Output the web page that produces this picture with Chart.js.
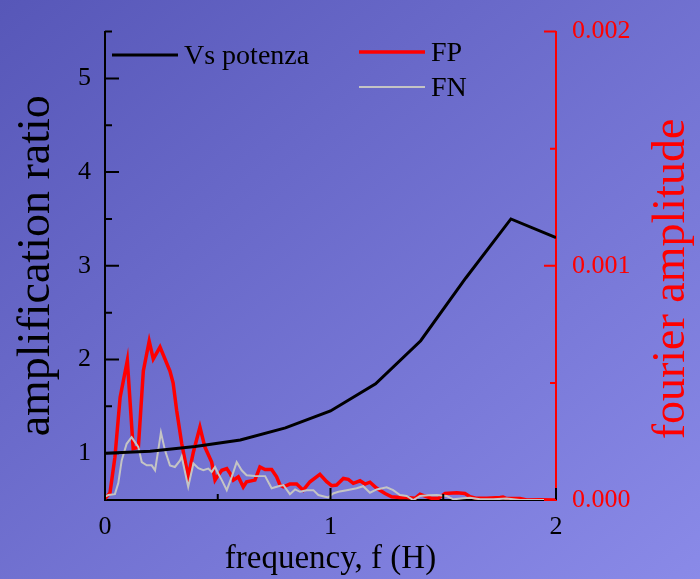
<!DOCTYPE html>
<html>
<head>
<meta charset="utf-8">
<script src="https://cdn.jsdelivr.net/npm/chart.js@4.4.0/dist/chart.umd.min.js"></script>
<style>
  html, body { margin: 0; padding: 0; }
  body { width: 700px; height: 579px; background: linear-gradient(to bottom right, #5757b8, #8a8ae8); }
  canvas { display: block; }
</style>
</head>
<body>
<canvas id="chart" width="700" height="579"></canvas>
<script>
const SERIF = '"Liberation Serif", "Times New Roman", serif';

// Vs potenza amplification curve
const vsFreq  = [0, 0.2, 0.4, 0.6, 0.8, 1.0, 1.2, 1.4, 1.6, 1.8, 2.0];
const vsRatio = [1.0, 1.02, 1.07, 1.14, 1.27, 1.45, 1.74, 2.2, 2.87, 3.5, 3.3];

// FP fourier spectrum
const fpFreq = [0, 0.022, 0.044, 0.067, 0.099, 0.125, 0.148, 0.170, 0.196, 0.214,
  0.244, 0.288, 0.302, 0.318, 0.340, 0.369, 0.392, 0.421, 0.443, 0.473,
  0.488, 0.502, 0.518, 0.540, 0.554, 0.569, 0.591, 0.613, 0.628, 0.665,
  0.687, 0.710, 0.739, 0.761, 0.776, 0.791, 0.820, 0.850, 0.879, 0.909,
  0.953, 0.983, 1.005, 1.027, 1.057, 1.079, 1.101, 1.131, 1.153, 1.175,
  1.205, 1.242, 1.271, 1.308, 1.338, 1.375, 1.397, 1.419, 1.449, 1.478,
  1.508, 1.560, 1.596, 1.619, 1.648, 1.693, 1.752, 1.765, 1.781, 1.840,
  1.870, 1.929, 2.0];
const fpAmp = [0.000006, 0.000030, 0.000183, 0.000438, 0.000596, 0.000219, 0.000226, 0.000551, 0.000678, 0.000602,
  0.000653, 0.000551, 0.000500, 0.000381, 0.000242, 0.000099, 0.000205, 0.000311, 0.000226, 0.000162,
  0.000085, 0.000106, 0.000127, 0.000134, 0.000114, 0.000085, 0.000099, 0.000056, 0.000078, 0.000085,
  0.000141, 0.000130, 0.000130, 0.000099, 0.000064, 0.000056, 0.000068, 0.000068, 0.000042, 0.000078,
  0.000110, 0.000078, 0.000061, 0.000064, 0.000092, 0.000088, 0.000071, 0.000082, 0.000068, 0.000076,
  0.000050, 0.000028, 0.000014, 0.000011, 0.000011, 0.000007, 0.000025, 0.000017, 0.000007, 0.000007,
  0.000028, 0.000031, 0.000028, 0.000014, 0.000007, 0.000007, 0.000011, 0.000013, 0.000006, 0.000006,
  0.000000, 0.000001, 0.000000];

// FN fourier spectrum
const fnFreq = [0, 0.015, 0.044, 0.059, 0.074, 0.096, 0.118, 0.133, 0.148, 0.163,
  0.185, 0.207, 0.222, 0.236, 0.248, 0.266, 0.288, 0.310, 0.333, 0.340,
  0.369, 0.392, 0.414, 0.436, 0.458, 0.473, 0.488, 0.502, 0.518, 0.540,
  0.562, 0.584, 0.606, 0.628, 0.665, 0.710, 0.739, 0.769, 0.791, 0.820,
  0.843, 0.865, 0.894, 0.924, 0.946, 0.976, 0.990, 1.012, 1.035, 1.072,
  1.116, 1.145, 1.175, 1.205, 1.249, 1.278, 1.308, 1.338, 1.367, 1.397,
  1.434, 1.471, 1.515, 1.545, 1.589, 1.619, 1.663, 1.722, 1.781, 1.840,
  1.929, 2.0];
const fnAmp = [0.000014, 0.000021, 0.000025, 0.000072, 0.000169, 0.000240, 0.000268, 0.000247, 0.000226, 0.000162,
  0.000148, 0.000148, 0.000127, 0.000212, 0.000289, 0.000212, 0.000148, 0.000141, 0.000169, 0.000186,
  0.000056, 0.000156, 0.000136, 0.000127, 0.000134, 0.000120, 0.000141, 0.000113, 0.000085, 0.000042,
  0.000099, 0.000162, 0.000127, 0.000106, 0.000103, 0.000102, 0.000050, 0.000059, 0.000064, 0.000025,
  0.000045, 0.000035, 0.000042, 0.000042, 0.000021, 0.000014, 0.000011, 0.000028, 0.000035, 0.000042,
  0.000050, 0.000059, 0.000031, 0.000045, 0.000054, 0.000042, 0.000021, 0.000017, 0.000000, 0.000017,
  0.000020, 0.000021, 0.000017, 0.000003, 0.000007, 0.000010, 0.000003, 0.000003, 0.000006, 0.000000,
  0.000000, 0.000000];

// axis ticks
const freqTicks  = [0, 1, 2];
const ratioTicks = [1, 2, 3, 4, 5];
const ampTicks   = [0, 0.001, 0.002];

const pts = (xs, ys) => xs.map((x, i) => ({ x: x, y: ys[i] }));
const setTicks = vals => scale => { scale.ticks = vals.map(v => ({ value: v })); };

// short tick marks pointing into the plot, majors and half-step minors
const inwardTicks = {
  id: 'inwardTicks',
  afterDatasetsDraw(chart) {
    const ctx = chart.ctx;
    const { x, y, y2 } = chart.scales;
    const minors = (vals) => vals.slice(0, -1).map((v, i) => (v + vals[i + 1]) / 2);
    ctx.save();
    ctx.lineWidth = 2;
    ctx.strokeStyle = '#000';
    ctx.beginPath();
    freqTicks.forEach(v => { const px = x.getPixelForValue(v); ctx.moveTo(px, x.top); ctx.lineTo(px, x.top - 12); });
    minors(freqTicks).forEach(v => { const px = x.getPixelForValue(v); ctx.moveTo(px, x.top); ctx.lineTo(px, x.top - 6); });
    ratioTicks.forEach(v => { const py = y.getPixelForValue(v); ctx.moveTo(y.right, py); ctx.lineTo(y.right + 14, py); });
    minors([...ratioTicks, 6]).forEach(v => { const py = y.getPixelForValue(v); ctx.moveTo(y.right, py); ctx.lineTo(y.right + 7, py); });
    ctx.stroke();
    ctx.strokeStyle = '#ff0000';
    ctx.beginPath();
    ampTicks.forEach(v => { const py = y2.getPixelForValue(v); ctx.moveTo(y2.left, py); ctx.lineTo(y2.left - 12, py); });
    minors(ampTicks).forEach(v => { const py = y2.getPixelForValue(v); ctx.moveTo(y2.left, py); ctx.lineTo(y2.left - 6, py); });
    ctx.stroke();
    ctx.restore();
  }
};

// legend entries placed inside the plot
const legendSpots = { 'Vs potenza': [112, 55], 'FP': [359, 52], 'FN': [359, 87] };
const inlineLegend = {
  id: 'inlineLegend',
  afterDraw(chart) {
    const ctx = chart.ctx;
    ctx.save();
    ctx.font = '28px ' + SERIF;
    ctx.textBaseline = 'middle';
    ctx.fillStyle = '#000';
    chart.data.datasets.forEach(ds => {
      const [lx, ly] = legendSpots[ds.label];
      ctx.strokeStyle = ds.borderColor;
      ctx.lineWidth = ds.borderWidth;
      ctx.beginPath();
      ctx.moveTo(lx, ly);
      ctx.lineTo(lx + 66, ly);
      ctx.stroke();
      ctx.fillText(ds.label, lx + 72, ly + 2);
    });
    ctx.restore();
  }
};

// right axis title reads bottom-to-top like the left one
const rightTitle = {
  id: 'rightTitle',
  afterDraw(chart) {
    const ctx = chart.ctx;
    ctx.save();
    ctx.translate(672, 279);
    ctx.rotate(-Math.PI / 2);
    ctx.font = '46px ' + SERIF;
    ctx.fillStyle = '#ff0000';
    ctx.textAlign = 'center';
    ctx.textBaseline = 'middle';
    ctx.fillText('fourier amplitude', 0, 0);
    ctx.restore();
  }
};

new Chart(document.getElementById('chart'), {
  type: 'line',
  data: {
    datasets: [
      { label: 'Vs potenza', data: pts(vsFreq, vsRatio), yAxisID: 'y', borderColor: '#000000', borderWidth: 3, order: 0 },
      { label: 'FP', data: pts(fpFreq, fpAmp), yAxisID: 'y2', borderColor: '#ff0000', borderWidth: 3.5, order: 2 },
      { label: 'FN', data: pts(fnFreq, fnAmp), yAxisID: 'y2', borderColor: '#c4c4c4', borderWidth: 2, order: 1 }
    ]
  },
  options: {
    responsive: false,
    animation: false,
    layout: { padding: { top: 27 } },
    elements: { point: { radius: 0 }, line: { tension: 0 } },
    plugins: { legend: { display: false }, tooltip: { enabled: false } },
    scales: {
      x: {
        type: 'linear', min: 0, max: 2,
        afterBuildTicks: setTicks(freqTicks),
        afterFit: s => { s.height = 79; },
        grid: { drawOnChartArea: false, drawTicks: false },
        border: { color: '#000', width: 2 },
        ticks: { color: '#000', font: { family: SERIF, size: 26 }, padding: 12 },
        title: { display: true, text: 'frequency, f (H)', color: '#000', font: { family: SERIF, size: 33 }, padding: 0 }
      },
      y: {
        position: 'left', min: 0.5, max: 5.5,
        afterBuildTicks: setTicks(ratioTicks),
        afterFit: s => { s.width = 105; },
        grid: { drawOnChartArea: false, drawTicks: false },
        border: { color: '#000', width: 2 },
        ticks: { color: '#000', font: { family: SERIF, size: 26 }, padding: 14 },
        title: { display: true, text: 'amplification ratio', color: '#000', font: { family: SERIF, size: 46, lineHeight: 1 }, padding: { top: 14 } }
      },
      y2: {
        position: 'right', min: 0, max: 0.002,
        afterBuildTicks: setTicks(ampTicks),
        afterFit: s => { s.width = 144; },
        grid: { drawOnChartArea: false, drawTicks: false },
        border: { color: '#ff0000', width: 2 },
        ticks: { color: '#ff0000', font: { family: SERIF, size: 26 }, padding: 16, callback: v => v.toFixed(3) }
      }
    }
  },
  plugins: [inwardTicks, inlineLegend, rightTitle]
});
</script>
</body>
</html>
